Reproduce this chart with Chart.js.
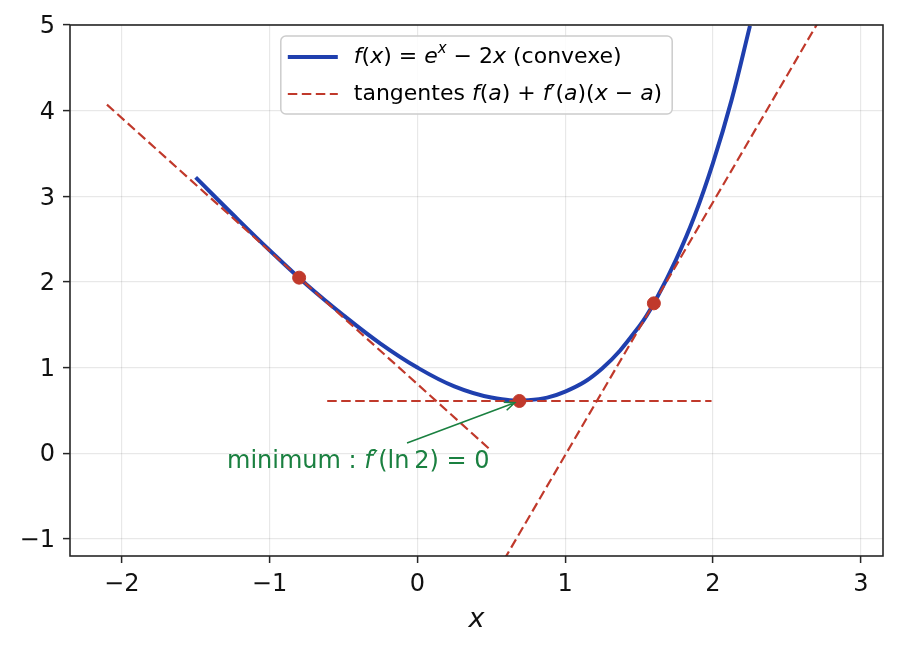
<!DOCTYPE html>
<html>
<head>
<meta charset="utf-8">
<script src="https://cdn.jsdelivr.net/npm/chart.js@4.4.1/dist/chart.umd.min.js"></script>
<style>
  html, body { margin: 0; padding: 0; background: #ffffff; }
  #wrap { width: 898px; height: 648px; }
</style>
</head>
<body>
<div id="wrap"><canvas id="fChart" width="898" height="648"></canvas></div>
<script>
// values
const curveX = [-1.5, -1.25, -1.0, -0.75, -0.5, -0.25, 0.0, 0.25, 0.5, 0.75, 1.0, 1.25, 1.5, 1.625, 1.75, 1.875, 2.0, 2.125, 2.25];
const curveY = [3.22, 2.79, 2.37, 1.97, 1.61, 1.28, 1.0, 0.78, 0.65, 0.62, 0.72, 0.99, 1.48, 1.83, 2.26, 2.77, 3.39, 4.12, 4.99];

const tangentX0 = [-2.1, -0.61, 0.3];
const tangentY0 = [4.07, 0.61, -2.09];
const tangentX1 = [0.5, 1.99, 2.9];
const tangentY1 = [0.03, 0.61, 5.59];

const pointX = [-0.8, 0.69, 1.6];
const pointY = [2.05, 0.61, 1.75];

const xTicks = [-2, -1, 0, 1, 2, 3];
const yTicks = [-1, 0, 1, 2, 3, 4, 5];

const annotText = [['minimum : ', 'n'], ['f', 'i'], ['\u2032(ln\u20092) = 0', 'n']];
const annotAt = [-0.4, -0.1];
const arrowFrom = [-0.07, 0.12];
const arrowTo = [0.69, 0.61];

const legendRows = [
    [['f', 'i'], ['(', 'n'], ['x', 'i'], [') = ', 'n'], ['e', 'i'], ['x', 'sup'], [' \u2212 2', 'n'], ['x', 'i'], [' (convexe)', 'n']],
    [['tangentes ', 'n'], ['f', 'i'], ['(', 'n'], ['a', 'i'], [') + ', 'n'], ['f', 'i'], ['\u2032(', 'n'], ['a', 'i'], [')(', 'n'], ['x', 'i'], [' \u2212 ', 'n'], ['a', 'i'], [')', 'n']]
];

const BLUE = '#1f3fae';
const RED = '#c0392b';
const GREEN = '#1a8040';
const FONT = '"DejaVu Sans", sans-serif';
const DASH = [9.5, 4.5];

function setFont(ctx, kind, size) {
    if (kind === 'i') ctx.font = `italic ${size}px ${FONT}`;
    else if (kind === 'sup') ctx.font = `italic ${Math.round(size * 0.7)}px ${FONT}`;
    else ctx.font = `${size}px ${FONT}`;
}

function richWidth(ctx, parts, size) {
    let w = 0;
    parts.forEach(([t, k]) => { setFont(ctx, k, size); w += ctx.measureText(t).width; });
    return w;
}

function drawRich(ctx, parts, x, y, size, color) {
    ctx.fillStyle = color;
    ctx.textBaseline = 'middle';
    ctx.textAlign = 'left';
    parts.forEach(([t, k]) => {
        setFont(ctx, k, size);
        const dy = k === 'sup' ? -size * 0.38 : 0;
        ctx.fillText(t, x, y + dy);
        x += ctx.measureText(t).width;
    });
}

const overlay = {
    id: 'overlay',
    afterDatasetsDraw(chart) {
        const ctx = chart.ctx;
        const area = chart.chartArea;
        const xs = chart.scales.x, ys = chart.scales.y;
        ctx.save();

        // frame
        ctx.strokeStyle = '#262626';
        ctx.lineWidth = 1.6;
        ctx.strokeRect(area.left, area.top, area.right - area.left, area.bottom - area.top);

        // annotation text + arrow
        const tSize = 24;
        const tw = richWidth(ctx, annotText, tSize);
        drawRich(ctx, annotText, xs.getPixelForValue(annotAt[0]) - tw / 2, ys.getPixelForValue(annotAt[1]), tSize, GREEN);

        let x0 = xs.getPixelForValue(arrowFrom[0]), y0 = ys.getPixelForValue(arrowFrom[1]);
        let x1 = xs.getPixelForValue(arrowTo[0]), y1 = ys.getPixelForValue(arrowTo[1]);
        const ang = Math.atan2(y1 - y0, x1 - x0);
        x1 -= Math.cos(ang) * 5; y1 -= Math.sin(ang) * 5;
        ctx.strokeStyle = GREEN;
        ctx.lineWidth = 1.6;
        ctx.beginPath();
        ctx.moveTo(x0, y0);
        ctx.lineTo(x1, y1);
        const hl = 11, ha = 0.4;
        ctx.moveTo(x1 - hl * Math.cos(ang - ha), y1 - hl * Math.sin(ang - ha));
        ctx.lineTo(x1, y1);
        ctx.lineTo(x1 - hl * Math.cos(ang + ha), y1 - hl * Math.sin(ang + ha));
        ctx.stroke();

        // legend box
        const lSize = 22;
        const textW = Math.max(...legendRows.map(r => richWidth(ctx, r, lSize)));
        const boxW = 7 + 50 + 16 + textW + 10;
        const boxH = 78;
        const bx = (area.left + area.right) / 2 - boxW / 2;
        const by = area.top + 11;
        ctx.beginPath();
        ctx.roundRect(bx, by, boxW, boxH, 5);
        ctx.fillStyle = 'rgba(255,255,255,0.85)';
        ctx.fill();
        ctx.strokeStyle = '#cccccc';
        ctx.lineWidth = 1.5;
        ctx.stroke();

        const rowY = [by + 21, by + 58];
        ctx.lineWidth = 4;
        ctx.strokeStyle = BLUE;
        ctx.beginPath();
        ctx.moveTo(bx + 7, rowY[0]);
        ctx.lineTo(bx + 57, rowY[0]);
        ctx.stroke();
        ctx.lineWidth = 2.2;
        ctx.strokeStyle = RED;
        ctx.setLineDash(DASH);
        ctx.beginPath();
        ctx.moveTo(bx + 7, rowY[1]);
        ctx.lineTo(bx + 57, rowY[1]);
        ctx.stroke();
        ctx.setLineDash([]);
        legendRows.forEach((r, i) => drawRich(ctx, r, bx + 73, rowY[i], lSize, '#000'));

        ctx.restore();
    }
};

const curveData = curveX.map((x, i) => ({ x: x, y: curveY[i] }));
const tangentSets = tangentX0.map((x, i) => ({
    data: [{ x: x, y: tangentY0[i] }, { x: tangentX1[i], y: tangentY1[i] }],
    borderColor: RED,
    borderWidth: 2.2,
    borderDash: DASH,
    pointRadius: 0,
    order: 2
}));

const minus = v => String(v).replace('-', '\u2212');

new Chart(document.getElementById('fChart').getContext('2d'), {
    type: 'line',
    data: {
        datasets: [
            {
                data: curveData,
                borderColor: BLUE,
                borderWidth: 4,
                pointRadius: 0,
                tension: 0.4,
                order: 3
            },
            ...tangentSets,
            {
                data: pointX.map((x, i) => ({ x: x, y: pointY[i] })),
                showLine: false,
                pointRadius: 6.5,
                pointBackgroundColor: RED,
                pointBorderColor: RED,
                order: 1
            }
        ]
    },
    options: {
        responsive: false,
        animation: false,
        devicePixelRatio: 1,
        layout: { padding: { top: 25, right: 15, left: 0, bottom: 0 } },
        plugins: {
            legend: { display: false },
            tooltip: { enabled: false }
        },
        scales: {
            x: {
                type: 'linear',
                min: -2.35,
                max: 3.15,
                afterBuildTicks: s => { s.ticks = xTicks.map(v => ({ value: v })); },
                afterFit: s => { s.height = 92; },
                grid: { color: 'rgba(0,0,0,0.09)', lineWidth: 1.2, tickColor: '#262626', tickLength: 7, tickWidth: 1.5 },
                border: { display: false },
                ticks: {
                    color: '#111',
                    font: { family: 'DejaVu Sans', size: 24 },
                    padding: 7,
                    maxRotation: 0,
                    callback: v => minus(v)
                },
                title: {
                    display: true,
                    text: 'x',
                    color: '#111',
                    font: { family: 'DejaVu Sans', size: 27, style: 'italic' },
                    padding: { top: 0, bottom: 12 }
                }
            },
            y: {
                type: 'linear',
                min: -1.2,
                max: 5,
                afterBuildTicks: s => { s.ticks = yTicks.map(v => ({ value: v })); },
                afterFit: s => { s.width = 70; },
                grid: { color: 'rgba(0,0,0,0.09)', lineWidth: 1.2, tickColor: '#262626', tickLength: 7, tickWidth: 1.5 },
                border: { display: false },
                ticks: {
                    color: '#111',
                    font: { family: 'DejaVu Sans', size: 24 },
                    padding: 8,
                    labelOffset: 2,
                    callback: v => minus(v)
                }
            }
        }
    },
    plugins: [overlay]
});
</script>
</body>
</html>
